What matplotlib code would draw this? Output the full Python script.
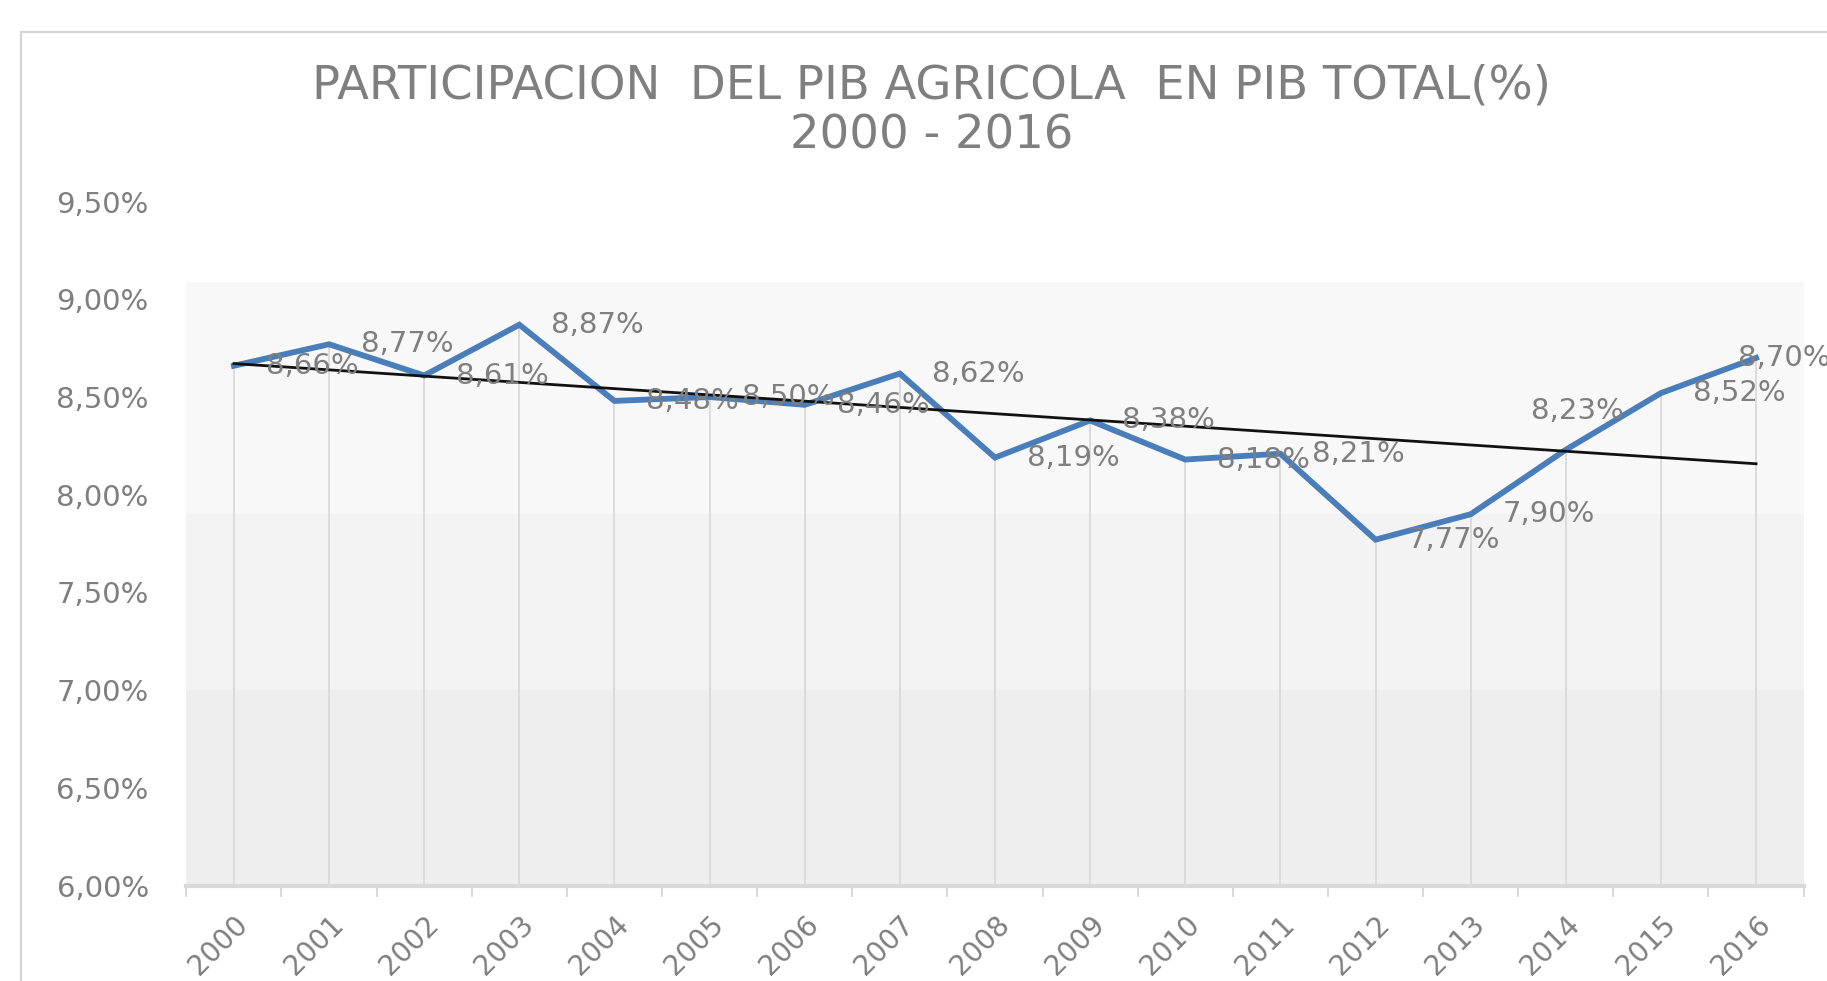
import numpy as np
import matplotlib
matplotlib.use("Agg")
import matplotlib.pyplot as plt
from matplotlib.patches import Rectangle

# datos: participacion del PIB agricola en el PIB total (%)
anios = ['2000', '2001', '2002', '2003', '2004', '2005', '2006', '2007', '2008',
         '2009', '2010', '2011', '2012', '2013', '2014', '2015', '2016']
participacion = [8.66, 8.77, 8.61, 8.87, 8.48, 8.50, 8.46, 8.62, 8.19,
                 8.38, 8.18, 8.21, 7.77, 7.90, 8.23, 8.52, 8.70]
y_ticks = [6.0, 6.5, 7.0, 7.5, 8.0, 8.5, 9.0, 9.5]

titulo = 'PARTICIPACION  DEL PIB AGRICOLA  EN PIB TOTAL(%)\n2000 - 2016'


def pct(v):
    return f'{v:.2f}%'.replace('.', ',')


gris = '#7f7f7f'
azul = '#4a7ebb'
plt.rcParams['font.family'] = ['DejaVu Sans']

fig = plt.figure(figsize=(18.27, 9.81), dpi=100)
fig.patch.set_facecolor('white')

# marco exterior del grafico (recortado por la captura)
fig.patches.append(Rectangle((21 / 1827, -0.2), 2.0, 1.2 - 31.5 / 981,
                             transform=fig.transFigure, fill=False,
                             edgecolor='#d4d4d4', linewidth=1.6))

ax = fig.add_axes([0.1020, 0.0973, 0.8852, 0.6972])
ax.set_facecolor('white')
x = np.arange(len(anios))
y = np.array(participacion)

ax.set_xlim(-0.5, len(anios) - 0.5)
ax.set_ylim(y_ticks[0], y_ticks[-1])

# fondo degradado del area de trazado
ax.axhspan(7.9, 9.09, color='#f8f8f8', lw=0, zorder=0)
ax.axhspan(7.0, 7.9, color='#f3f3f3', lw=0, zorder=0)
ax.axhspan(6.0, 7.0, color='#eeeeee', lw=0, zorder=0)

# lineas de proyeccion
ax.vlines(x, y_ticks[0], y, color='#d9d9d9', lw=1.3, zorder=1)

ax.plot(x, y, color=azul, lw=4.2, zorder=3, solid_joinstyle='miter')

# linea de tendencia lineal
coef = np.polyfit(x, y, 1)
ax.plot(x, np.polyval(coef, x), color='#111111', lw=2.0, zorder=4)

# etiquetas a la derecha del punto; algunas desplazadas como en Excel
desplaza = {len(anios) - 1: (-13, 0), 14: (-25, 28)}
for i, v in enumerate(participacion):
    dx, dy = desplaza.get(i, (23, 0))
    ax.annotate(pct(v), (x[i], v), xytext=(dx, dy), textcoords='offset points',
                ha='left', va='center', fontsize=21, color=gris, zorder=5,
                annotation_clip=False)

ax.set_yticks(y_ticks)
ax.set_yticklabels([pct(t) for t in y_ticks])
ax.set_xticks(x)
ax.set_xticklabels(anios, rotation=45, ha='right', rotation_mode='anchor')
ax.set_xticks(np.arange(-0.5, len(anios), 1), minor=True)

ax.tick_params(axis='y', length=0, pad=27, labelsize=21, labelcolor=gris)
ax.tick_params(axis='x', which='major', length=0, pad=18, labelsize=20,
               labelcolor=gris)
ax.tick_params(axis='x', which='minor', length=8, width=1.3, color='#d6d6d6')

for s in ['top', 'right', 'left']:
    ax.spines[s].set_visible(False)
ax.spines['bottom'].set_color('#d9d9d9')
ax.spines['bottom'].set_linewidth(3)

fig.text(0.510, 0.887, titulo, ha='center', va='center', fontsize=33.5,
         color=gris, linespacing=1.15)

fig.savefig('out.png', dpi=100)
